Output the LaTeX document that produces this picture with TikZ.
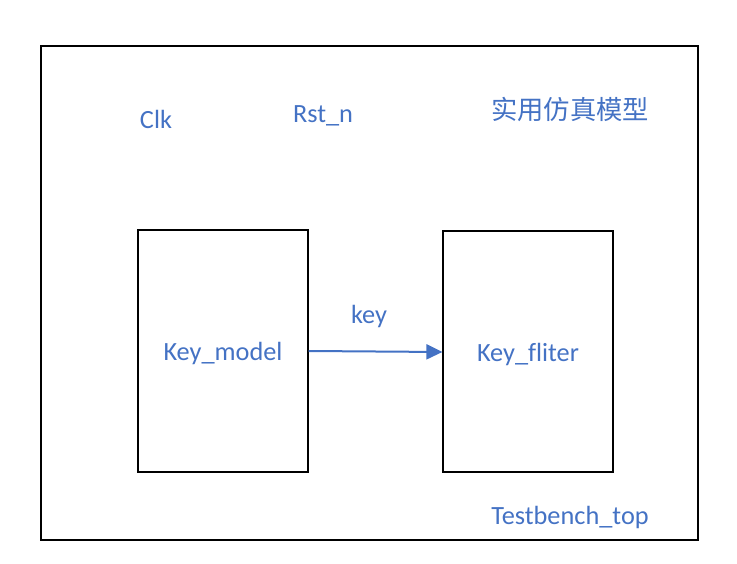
\documentclass[tikz,border=0pt]{standalone}
\usepackage{fontspec}
\setmainfont[Ligatures=NoCommon]{Carlito}
\newfontfamily\cjk{Noto Sans CJK SC}
\usetikzlibrary{arrows.meta}
\definecolor{tblue}{HTML}{4472C4}
\begin{document}
\begin{tikzpicture}[x=1pt,y=-1pt,
  lbl/.style={text=tblue,font=\fontsize{26.3}{30}\selectfont,inner sep=0pt},
  blk/.style={draw=black,line width=1.2pt},
  conn/.style={draw=tblue,line width=2pt,-{Triangle[length=16pt,width=15pt]}}]
\useasboundingbox (0,0) rectangle (737,564);
\draw[blk] (41,46) rectangle (698,540);
\node[blk,minimum width=170pt,minimum height=242pt,inner sep=0pt] (km) at (223,351) {};
\node[blk,minimum width=170pt,minimum height=241pt,inner sep=0pt] (kf) at (528,351.5) {};
\node[lbl,anchor=base] (kmt) at (223,360) {Key\_model};
\node[lbl,anchor=base] (kft) at (528,361) {Key\_fliter};
\node[lbl,anchor=base] (clk) at (156,129) {Clk};
\node[lbl,anchor=base] (rst) at (323,123) {Rst\_n};
\node[lbl] (cn) at (570,109) {\cjk 实用仿真模型};
\node[lbl,anchor=base] (key) at (369,324) {key};
\node[lbl,anchor=base] (tb) at (570,524) {Testbench\_top};
\draw[conn] (km.east |- 0,351) -- (kf.west |- 0,352);
\end{tikzpicture}
\end{document}
